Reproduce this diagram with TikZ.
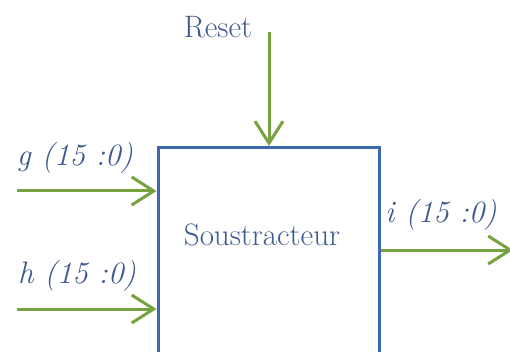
\documentclass[tikz,border=0pt]{standalone}
\usepackage{fontspec}
\usetikzlibrary{arrows.meta}
\definecolor{sig}{HTML}{76A23F}
\definecolor{boxblue}{HTML}{3D67AE}
\definecolor{txt}{HTML}{3E5A8C}
\tikzset{
  sigline/.style={draw=sig, line width=3pt, -{Straight Barb[length=22pt,width=28pt,line width=3pt]}},
  blockbox/.style={draw=boxblue, line width=3pt, minimum width=221pt, minimum height=221pt, inner sep=0pt},
  lbl/.style={text=txt, font=\rmfamily\fontsize{31}{36}\selectfont, inner sep=0pt},
  ilbl/.style={lbl, font=\rmfamily\fontsize{31}{36}\selectfont\itshape}
}
\begin{document}
\begin{tikzpicture}[x=1pt,y=-1pt]
\useasboundingbox (0,0) rectangle (510,352);
\clip (0,0) rectangle (510,352);
\node[blockbox] (box) at (268.5,258) {};
\node[lbl] (title) at (262,235) {Soustracteur};
\node[lbl] (reset) at (218,27) {Reset};
\node[ilbl] (glbl) at (75,158) {g (15 :0)};
\node[ilbl] (hlbl) at (77,276) {h (15 :0)};
\node[ilbl] (ilbl) at (441,215) {i (15 :0)};
\coordinate (rs) at (269,32);
\coordinate (gs) at (17,191);
\coordinate (hs) at (17,309);
\coordinate (ie) at (513,250);
\draw[sigline] (rs) -- (rs |- box.north);
\draw[sigline] (gs) -- (gs -| box.west);
\draw[sigline] (hs) -- (hs -| box.west);
\draw[sigline] (ie -| box.east) -- (ie);
\end{tikzpicture}
\end{document}
